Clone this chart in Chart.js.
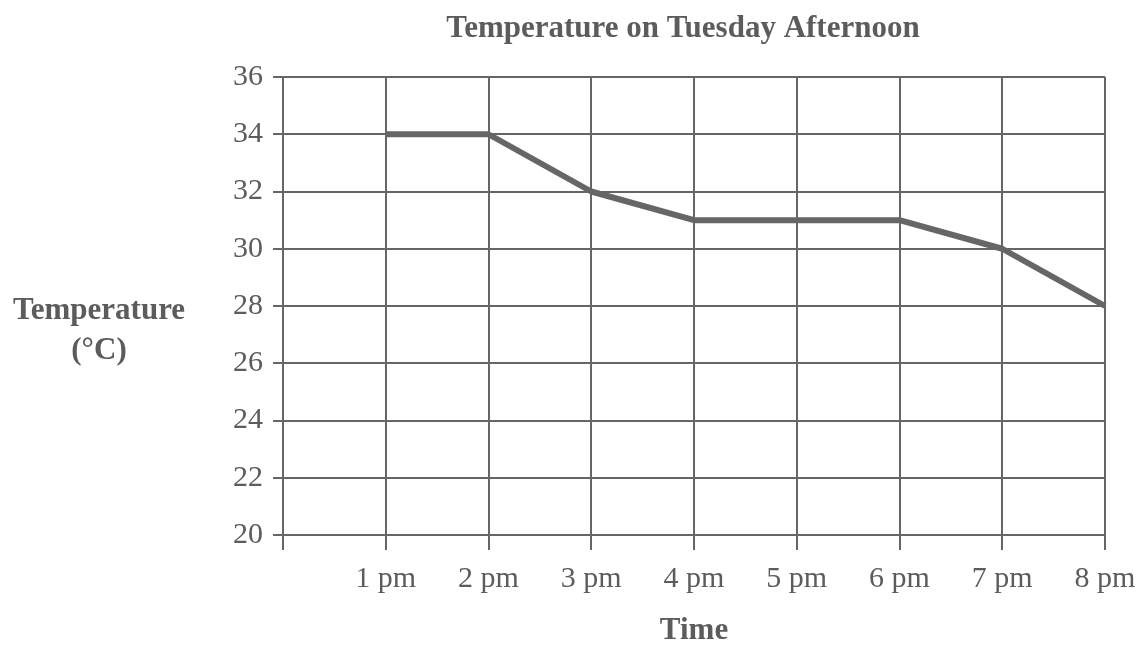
<!DOCTYPE html>
<html>
<head>
<meta charset="utf-8">
<title>Temperature on Tuesday Afternoon</title>
<script src="https://cdn.jsdelivr.net/npm/chart.js@4/dist/chart.umd.min.js"></script>
<style>
  html, body { margin: 0; padding: 0; background: #fff; }
  #tempChart { display: block; }
</style>
</head>
<body>
<canvas id="tempChart" width="1144" height="646"></canvas>
<script>
// hours on the x axis; the first slot is left blank
const hours = ['', '1 pm', '2 pm', '3 pm', '4 pm', '5 pm', '6 pm', '7 pm', '8 pm'];
// temperature in degrees C
const temps = [null, 34, 34, 32, 31, 31, 31, 30, 28];
const yMin = 20;
const yMax = 36;
const yStep = 2;

const ink = '#666666';
const textInk = '#5c5c5c';
const serif = '"Liberation Serif", "DejaVu Serif", serif';

// title and the horizontal y-axis caption
const captions = {
    id: 'captions',
    afterDraw(chart) {
        const ctx = chart.ctx;
        ctx.save();
        ctx.fillStyle = textInk;
        ctx.textAlign = 'center';
        ctx.textBaseline = 'middle';
        ctx.font = 'bold 31px ' + serif;
        ctx.fillText('Temperature on Tuesday Afternoon', 683, 29);
        ctx.fillText('Temperature', 99, 311);
        ctx.fillText('(°C)', 99, 351);
        ctx.restore();
    }
};

const config = {
    type: 'line',
    data: {
        labels: hours,
        datasets: [{
            label: 'Temperature',
            data: temps,
            borderColor: ink,
            borderWidth: 6,
            pointRadius: 0,
            tension: 0,
            borderCapStyle: 'butt',
            borderJoinStyle: 'round'
        }]
    },
    options: {
        responsive: false,
        animation: false,
        layout: {
            padding: { top: 77, right: 39, left: 0, bottom: 0 }
        },
        plugins: {
            legend: { display: false },
            title: { display: false },
            tooltip: { enabled: false }
        },
        scales: {
            x: {
                offset: false,
                grid: {
                    color: ink,
                    lineWidth: 2,
                    tickLength: 15,
                    tickColor: ink
                },
                border: { display: false },
                ticks: {
                    color: textInk,
                    font: { family: serif, size: 30 },
                    padding: 11,
                    maxRotation: 0,
                    autoSkip: false
                },
                title: {
                    display: true,
                    text: 'Time',
                    color: textInk,
                    font: { family: serif, size: 31, weight: 'bold', lineHeight: 1 },
                    padding: { top: 15, bottom: 0 }
                },
                afterFit(scale) {
                    scale.height = 111;
                    // keep the plot edge fixed; the last label fits in the layout padding
                    scale.paddingLeft = 0;
                    scale.paddingRight = 0;
                }
            },
            y: {
                min: yMin,
                max: yMax,
                grid: {
                    color: ink,
                    lineWidth: 2,
                    tickLength: 10,
                    tickColor: ink
                },
                border: { display: false },
                ticks: {
                    stepSize: yStep,
                    color: textInk,
                    font: { family: serif, size: 30 },
                    padding: 10
                },
                afterFit(scale) { scale.width = 283; }
            }
        }
    },
    plugins: [captions]
};

const myChart = new Chart(
    document.getElementById('tempChart'),
    config
);
</script>
</body>
</html>
